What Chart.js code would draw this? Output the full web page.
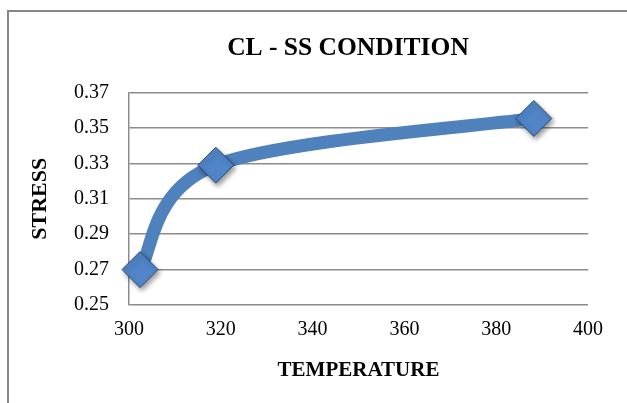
<!DOCTYPE html>
<html>
<head>
<meta charset="utf-8">
<title>CL - SS Condition</title>
<script src="https://cdn.jsdelivr.net/npm/chart.js@4"></script>
<style>
  html, body { margin: 0; padding: 0; background: #fff; }
  #wrap { position: relative; width: 627px; height: 403px; overflow: hidden; }
  #frame { position: absolute; left: 7px; top: 10px; width: 700px; height: 500px;
           border-left: 2px solid #878787; border-top: 2px solid #878787; }
  canvas { position: absolute; left: 0; top: 0; }
</style>
</head>
<body>
<div id="wrap">
  <div id="frame"></div>
  <canvas id="chart" width="627" height="403"></canvas>
</div>
<script>
// values
const temperature = [302.4, 318.9, 388.2];
const stress = [0.270, 0.329, 0.3554];
const xTicks = [300, 320, 340, 360, 380, 400];
const yTicks = [0.25, 0.27, 0.29, 0.31, 0.33, 0.35, 0.37];

const points = temperature.map((t, i) => ({ x: t, y: stress[i] }));
const serif = 'Liberation Serif, Times New Roman, serif';

// Excel style smoothing: control points at 1/6 of the neighbour chord
const excelSmooth = {
  id: 'excelSmooth',
  beforeDatasetDraw(chart, args) {
    const ds = chart.data.datasets[args.index];
    if (ds.showLine === false) return;
    const line = args.meta.dataset;
    line.updateControlPoints(chart.chartArea, 'x');
    const pts = args.meta.data;
    pts.forEach((p, i) => {
      const prev = pts[i - 1] || p;
      const next = pts[i + 1] || p;
      const dx = (next.x - prev.x) / 6;
      const dy = (next.y - prev.y) / 6;
      p.cp1x = p.x - dx; p.cp1y = p.y - dy;
      p.cp2x = p.x + dx; p.cp2y = p.y + dy;
    });
  }
};

const markerShadow = {
  id: 'markerShadow',
  beforeDatasetDraw(chart, args) {
    if (chart.data.datasets[args.index].showLine !== false) return;
    const ctx = chart.ctx;
    ctx.save();
    ctx.shadowColor = 'rgba(0,0,0,0.4)';
    ctx.shadowBlur = 5;
    ctx.shadowOffsetX = 2;
    ctx.shadowOffsetY = 3;
  },
  afterDatasetDraw(chart, args) {
    if (chart.data.datasets[args.index].showLine !== false) return;
    chart.ctx.restore();
  }
};

// the chart title sits a bit right of the plot centre in the original
const titleNudge = {
  id: 'titleNudge',
  afterLayout(chart) {
    const tb = chart.titleBlock;
    if (!tb) return;
    const shift = 348 - (tb.left + tb.right) / 2;
    tb.left += shift;
    tb.right += shift;
  }
};

new Chart(document.getElementById('chart'), {
  type: 'line',
  data: {
    datasets: [
      {
        label: 'markers',
        data: points,
        showLine: false,
        pointStyle: 'rectRot',
        pointRadius: 18,
        backgroundColor: '#5185c8',
        borderColor: '#2b4a72',
        borderWidth: 1,
        clip: false
      },
      {
        label: 'stress',
        data: points,
        borderColor: '#4f81bd',
        borderWidth: 13,
        tension: 0.4,
        pointRadius: 0,
        fill: false,
        clip: false
      }
    ]
  },
  options: {
    responsive: false,
    animation: false,
    events: [],
    layout: { padding: { top: 12, left: 24, right: 39, bottom: 10 } },
    plugins: {
      legend: { display: false },
      tooltip: { enabled: false },
      title: {
        display: true,
        text: 'CL - SS CONDITION',
        color: '#000',
        font: { family: serif, size: 25.5, weight: 'bold' },
        padding: { top: 21, bottom: 29 }
      }
    },
    scales: {
      x: {
        type: 'linear',
        min: 300,
        max: 400,
        afterBuildTicks: axis => { axis.ticks = xTicks.map(v => ({ value: v })); },
        afterFit: axis => { axis.height = 88; },
        grid: { display: false, drawTicks: false },
        border: { display: false },
        ticks: { color: '#000', padding: 13, font: { family: serif, size: 20 } },
        title: {
          display: true,
          text: 'TEMPERATURE',
          color: '#000',
          font: { family: serif, size: 21, weight: 'bold' },
          padding: { top: 4, bottom: 10 }
        }
      },
      y: {
        min: 0.25,
        max: 0.37,
        afterBuildTicks: axis => { axis.ticks = yTicks.map(v => ({ value: v })); },
        afterFit: axis => { axis.width = 105; },
        grid: { color: '#8c8c8c', lineWidth: 1.5, drawTicks: false },
        border: { display: true, color: '#8c8c8c', width: 1.5 },
        ticks: {
          color: '#000',
          padding: 20,
          font: { family: serif, size: 20 },
          callback: v => v.toFixed(2)
        },
        title: {
          display: true,
          text: 'STRESS',
          color: '#000',
          font: { family: serif, size: 22, weight: 'bold' },
          padding: { top: 3, bottom: 4 }
        }
      }
    }
  },
  plugins: [excelSmooth, markerShadow, titleNudge]
});
</script>
</body>
</html>
